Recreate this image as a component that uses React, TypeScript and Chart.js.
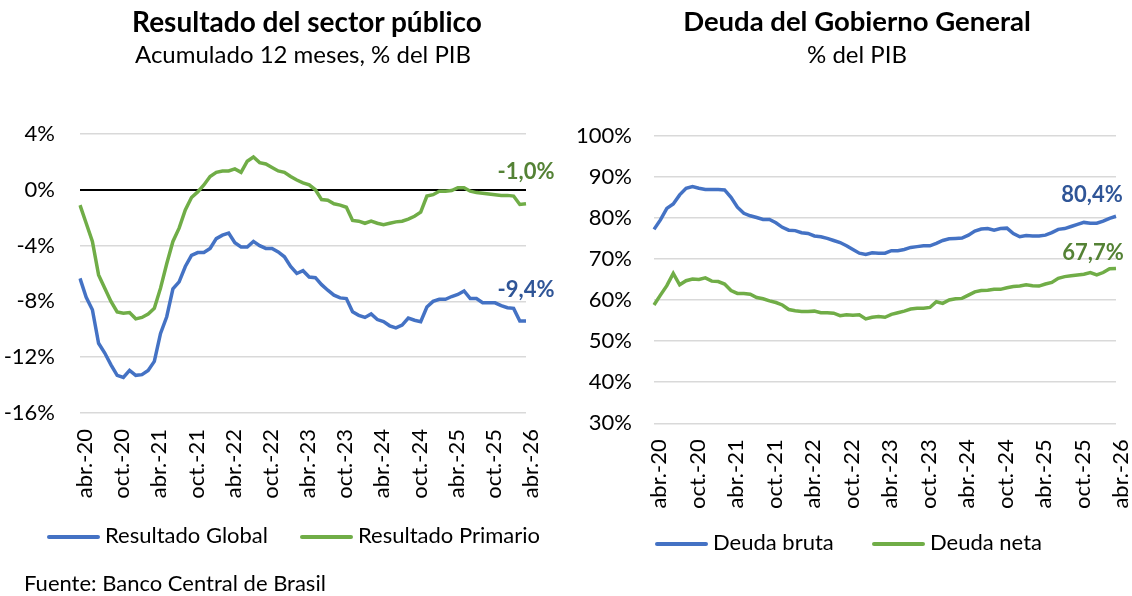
import React, { useEffect, useRef } from 'react';
import { Chart, registerables } from 'chart.js';

Chart.register(...registerables);

const FONT = 'Lato, "Noto Sans", sans-serif';

const monthNames = ['ene.', 'feb.', 'mar.', 'abr.', 'may.', 'jun.', 'jul.', 'ago.', 'sep.', 'oct.', 'nov.', 'dic.'];
// Monthly categories abr.-20 .. abr.-26
const categories: string[] = [];
for (let i = 0; i < 73; i++) {
  const m = (3 + i) % 12;
  const y = 20 + Math.floor((3 + i) / 12);
  categories.push(`${monthNames[m]}-${y}`);
}

const resultadoGlobal = [
  -6.35, -7.7, -8.6, -11.0, -11.7, -12.55, -13.3, -13.45, -12.95, -13.3, -13.25, -12.95, -12.3, -10.3, -9.1, -7.1,
  -6.6, -5.5, -4.7, -4.5, -4.5, -4.2, -3.5, -3.25, -3.1, -3.8, -4.1, -4.1, -3.7, -4.0, -4.2,
  -4.2, -4.45, -4.8, -5.5, -6.0, -5.8, -6.25, -6.3, -6.8, -7.2, -7.55, -7.75, -7.8, -8.75, -9.0, -9.15, -8.9,
  -9.3, -9.45, -9.75, -9.9, -9.7, -9.2, -9.35, -9.45, -8.4, -8.0, -7.85, -7.85, -7.65, -7.5, -7.25, -7.8, -7.8,
  -8.1, -8.1, -8.1, -8.3, -8.45, -8.5, -9.4, -9.4,
];

const resultadoPrimario = [
  -1.1, -2.4, -3.7, -6.1, -7.05, -8.0, -8.75, -8.85, -8.8, -9.25, -9.15, -8.9, -8.5, -7.05, -5.3, -3.7, -2.75,
  -1.45, -0.55, -0.15, 0.35, 0.95, 1.25, 1.35, 1.35, 1.5, 1.25, 2.05, 2.35, 1.95, 1.85,
  1.6, 1.35, 1.25, 0.95, 0.7, 0.5, 0.35, 0.0, -0.7, -0.75, -1.0, -1.1, -1.25, -2.2, -2.25, -2.4, -2.25, -2.4,
  -2.5, -2.4, -2.3, -2.25, -2.1, -1.9, -1.6, -0.45, -0.35, -0.1, -0.1, -0.05, 0.15, 0.15, -0.1, -0.2, -0.25,
  -0.3, -0.35, -0.4, -0.4, -0.45, -1.05, -1.0,
];

const deudaBruta = [
  77.2, 79.5, 82.3, 83.4, 85.6, 87.2, 87.6, 87.2, 86.9, 86.9, 86.9, 86.8, 85.0, 82.6, 81.1, 80.5, 80.1, 79.6,
  79.6, 78.8, 77.7, 77.0, 76.9, 76.4, 76.2, 75.6, 75.4, 75.0, 74.5, 74.0, 73.2,
  72.3, 71.4, 71.1, 71.5, 71.4, 71.4, 72.0, 72.0, 72.3, 72.8, 73.0, 73.2, 73.2, 73.8, 74.5, 74.9, 75.0, 75.1,
  75.8, 76.8, 77.3, 77.4, 77.0, 77.4, 77.5, 76.2, 75.4, 75.7, 75.6, 75.6, 75.8, 76.4, 77.2, 77.4, 77.9, 78.4,
  78.9, 78.7, 78.7, 79.2, 79.9, 80.4,
];

const deudaNeta = [
  58.8, 61.2, 63.5, 66.5, 63.7, 64.7, 65.1, 65.0, 65.4, 64.6, 64.5, 63.9, 62.3, 61.6, 61.6, 61.4, 60.6, 60.3,
  59.8, 59.4, 58.8, 57.7, 57.4, 57.2, 57.2, 57.3, 56.9, 56.9, 56.8, 56.2, 56.4,
  56.3, 56.4, 55.4, 55.8, 56.0, 55.8, 56.5, 56.9, 57.3, 57.8, 58.0, 58.0, 58.2, 59.6, 59.2, 60.0, 60.3, 60.4,
  61.2, 62.0, 62.3, 62.4, 62.6, 62.6, 63.0, 63.3, 63.4, 63.7, 63.5, 63.4, 63.9, 64.3, 65.3, 65.7, 65.9, 66.1,
  66.3, 66.7, 66.1, 66.7, 67.6, 67.7,
];

const BLUE = '#4472C4';
const GREEN = '#70AD47';
const BLUE_LABEL = '#2F5597';
const GREEN_LABEL = '#548235';

const fmt = (v: number) => v.toFixed(1).replace('.', ',') + '%';

const endLabelsPlugin = {
  id: 'endLabels',
  afterDatasetsDraw(chart: any, _args: any, opts: any) {
    const ctx = chart.ctx;
    (opts.items || []).forEach((it: any, i: number) => {
      const meta = chart.getDatasetMeta(i);
      const ds = chart.data.datasets[i];
      const pt = meta.data[meta.data.length - 1];
      if (!pt) return;
      ctx.save();
      ctx.font = `bold ${opts.size}px ${FONT}`;
      ctx.fillStyle = it.color;
      ctx.textAlign = 'center';
      ctx.textBaseline = 'middle';
      ctx.fillText(fmt(ds.data[ds.data.length - 1]), pt.x + it.dx, pt.y + it.dy);
      ctx.restore();
    });
  },
};

const TICK_SIZE = 22;

function makeConfig(p: {
  data1: number[]; data2: number[]; name1: string; name2: string;
  min: number; max: number; step: number;
  padding: any; yWidth: number; xHeight: number; yPad: number;
  labels: any[]; zeroLine: boolean;
}) {
  return {
    type: 'line' as const,
    data: {
      labels: categories,
      datasets: [
        { label: p.name1, data: p.data1, borderColor: BLUE, backgroundColor: BLUE, borderWidth: 3.5, pointRadius: 0, tension: 0, fill: false },
        { label: p.name2, data: p.data2, borderColor: GREEN, backgroundColor: GREEN, borderWidth: 3.5, pointRadius: 0, tension: 0, fill: false },
      ],
    },
    options: {
      animation: false,
      responsive: false,
      maintainAspectRatio: false,
      layout: { padding: p.padding },
      plugins: {
        legend: { display: false },
        tooltip: { enabled: false },
        endLabels: { items: p.labels, size: 22 },
      },
      scales: {
        x: {
          grid: { display: false, drawTicks: false },
          border: { display: false },
          ticks: {
            autoSkip: false,
            maxRotation: 90,
            minRotation: 90,
            padding: 16,
            labelOffset: 5,
            color: '#000',
            font: { family: FONT, size: TICK_SIZE },
            callback: (_v: any, i: number) => (i % 6 === 0 ? categories[i] : ''),
          },
          afterFit: (s: any) => {
            s.height = p.xHeight;
            s.paddingLeft = 0;
            s.paddingRight = 0;
          },
        },
        y: {
          min: p.min,
          max: p.max,
          ticks: {
            stepSize: p.step,
            padding: p.yPad,
            color: '#000',
            font: { family: FONT, size: TICK_SIZE },
            callback: (v: any) => `${v}%`,
          },
          grid: {
            drawTicks: false,
            color: (c: any) => (p.zeroLine && c.tick && c.tick.value === 0 ? '#000000' : '#D9D9D9'),
            lineWidth: (c: any) => (p.zeroLine && c.tick && c.tick.value === 0 ? 2 : 1.5),
          },
          border: { display: false },
          afterFit: (s: any) => { s.width = p.yWidth; },
        },
      },
    },
    plugins: [endLabelsPlugin],
  };
}

function LineChart({ config, left }: { config: any; left: number }) {
  const ref = useRef<HTMLCanvasElement>(null);
  useEffect(() => {
    if (!ref.current) return;
    const chart = new Chart(ref.current, config);
    return () => chart.destroy();
  }, [config]);
  return (
    <canvas
      ref={ref}
      width={566}
      height={596}
      style={{ position: 'absolute', left, top: 0, width: 566, height: 596 }}
    />
  );
}

const leftConfig = makeConfig({
  data1: resultadoGlobal, data2: resultadoPrimario,
  name1: 'Resultado Global', name2: 'Resultado Primario',
  min: -16, max: 4, step: 4,
  padding: { top: 134, left: 0, right: 40, bottom: 93 },
  yWidth: 80, xHeight: 90, yPad: 25, zeroLine: true,
  labels: [
    { color: BLUE_LABEL, dx: 0, dy: -31 },
    { color: GREEN_LABEL, dx: 0, dy: -32 },
  ],
});

const rightConfig = makeConfig({
  data1: deudaBruta, data2: deudaNeta,
  name1: 'Deuda bruta', name2: 'Deuda neta',
  min: 30, max: 100, step: 10,
  padding: { top: 135.7, left: 0, right: 16, bottom: 82.7 },
  yWidth: 88, xHeight: 90, yPad: 22, zeroLine: false,
  labels: [
    { color: BLUE_LABEL, dx: -24, dy: -21 },
    { color: GREEN_LABEL, dx: -23, dy: -16 },
  ],
});

const textStyle = (left: number, top: number, width: number, size: number, bold: boolean): React.CSSProperties => ({
  position: 'absolute',
  left,
  top,
  width,
  textAlign: 'center',
  fontFamily: FONT,
  fontSize: size,
  fontWeight: bold ? 700 : 400,
  lineHeight: `${size}px`,
  whiteSpace: 'nowrap',
  color: '#000',
});

function LegendItem({ x, y, color, text }: { x: number; y: number; color: string; text: string }) {
  return (
    <>
      <div style={{ position: 'absolute', left: x, top: y - 2, width: 53, height: 4, borderRadius: 2, background: color }} />
      <div style={{ ...textStyle(x + 58, y - 13, 300, 22, false), textAlign: 'left' }}>{text}</div>
    </>
  );
}

export default function App() {
  return (
    <div style={{ position: 'fixed', left: 0, top: 0, width: 1132, height: 596, background: '#fff', overflow: 'hidden' }}>
      <LineChart config={leftConfig} left={0} />
      <LineChart config={rightConfig} left={566} />
      <div style={textStyle(107, 6.7, 400, 28, true)}>Resultado del sector público</div>
      <div style={textStyle(103, 41.7, 400, 24, false)}>Acumulado 12 meses, % del PIB</div>
      <div style={textStyle(657, 6.7, 400, 27.5, true)}>Deuda del Gobierno General</div>
      <div style={textStyle(657, 41.7, 400, 24, false)}>% del PIB</div>
      <LegendItem x={47} y={537} color={BLUE} text="Resultado Global" />
      <LegendItem x={300} y={537} color={GREEN} text="Resultado Primario" />
      <LegendItem x={655} y={544} color={BLUE} text="Deuda bruta" />
      <LegendItem x={872} y={544} color={GREEN} text="Deuda neta" />
      <div style={{ ...textStyle(24, 571.5, 400, 22, false), textAlign: 'left' }}>Fuente: Banco Central de Brasil</div>
    </div>
  );
}
